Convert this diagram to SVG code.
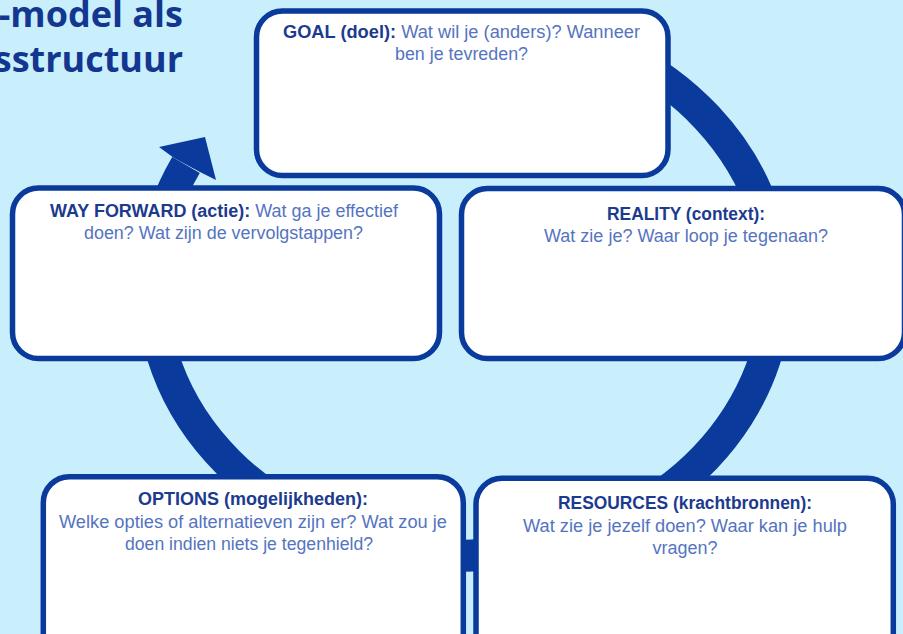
<svg xmlns="http://www.w3.org/2000/svg" width="903" height="634" viewBox="0 0 903 634">
  <style>
    .box { fill: #ffffff; stroke: #0a3a9c; stroke-width: 5.5; }
    .t { font-family: "Liberation Sans", Arial, sans-serif; font-size: 17.5px; text-anchor: middle; }
    .h { fill: #1c3b8e; font-weight: bold; }
    .b { fill: #5474bf; }
    .title { font-family: "Open Sans", "Liberation Sans", sans-serif; font-weight: bold; font-size: 36px; fill: #13368f; text-anchor: end; }
    .ring { fill: none; stroke: #0a3a9c; stroke-width: 32; }
  </style>
  <rect x="0" y="0" width="903" height="634" fill="#c9effd"/>

  <g id="title">
    <text class="title" x="183" y="27">-model als</text>
    <text class="title" x="183" y="72">sstructuur</text>
  </g>

  <g id="connectors">
    <path class="ring" d="M 619 53 A 312 269 0 1 1 186 165"/>
    <polygon fill="#0a3a9c" points="174,158 159,147 205,137 216,180 200,172"/>
  </g>

  <g id="goal">
    <rect class="box" x="256.5" y="11" width="411.5" height="164.5" rx="26"/>
    <text class="t" x="461.5" y="38" textLength="357" lengthAdjust="spacingAndGlyphs"><tspan class="h">GOAL (doel):</tspan><tspan class="b"> Wat wil je (anders)? Wanneer</tspan></text>
    <text class="t b" x="461.5" y="60" textLength="133" lengthAdjust="spacingAndGlyphs">ben je tevreden?</text>
  </g>

  <g id="reality">
    <rect class="box" x="461.5" y="188.5" width="443" height="170" rx="26"/>
    <text class="t h" x="686" y="220" textLength="158" lengthAdjust="spacingAndGlyphs">REALITY (context):</text>
    <text class="t b" x="686" y="242" textLength="284" lengthAdjust="spacingAndGlyphs">Wat zie je? Waar loop je tegenaan?</text>
  </g>

  <g id="resources">
    <rect class="box" x="476" y="478.3" width="417.3" height="200" rx="26"/>
    <text class="t h" x="685" y="509" textLength="254" lengthAdjust="spacingAndGlyphs">RESOURCES (krachtbronnen):</text>
    <text class="t b" x="685" y="532" textLength="324" lengthAdjust="spacingAndGlyphs">Wat zie je jezelf doen? Waar kan je hulp</text>
    <text class="t b" x="685" y="554" textLength="65" lengthAdjust="spacingAndGlyphs">vragen?</text>
  </g>

  <g id="options">
    <rect class="box" x="43.3" y="476.7" width="420" height="200" rx="26"/>
    <text class="t h" x="253" y="505" textLength="230" lengthAdjust="spacingAndGlyphs">OPTIONS (mogelijkheden):</text>
    <text class="t b" x="253" y="528" textLength="388" lengthAdjust="spacingAndGlyphs">Welke opties of alternatieven zijn er? Wat zou je</text>
    <text class="t b" x="249" y="550" textLength="248" lengthAdjust="spacingAndGlyphs">doen indien niets je tegenhield?</text>
  </g>

  <g id="way-forward">
    <rect class="box" x="12.5" y="188" width="427" height="170.5" rx="26"/>
    <text class="t" x="224" y="217" textLength="348" lengthAdjust="spacingAndGlyphs"><tspan class="h">WAY FORWARD (actie):</tspan><tspan class="b"> Wat ga je effectief</tspan></text>
    <text class="t b" x="223.5" y="238.5" textLength="279" lengthAdjust="spacingAndGlyphs">doen? Wat zijn de vervolgstappen?</text>
  </g>
</svg>
